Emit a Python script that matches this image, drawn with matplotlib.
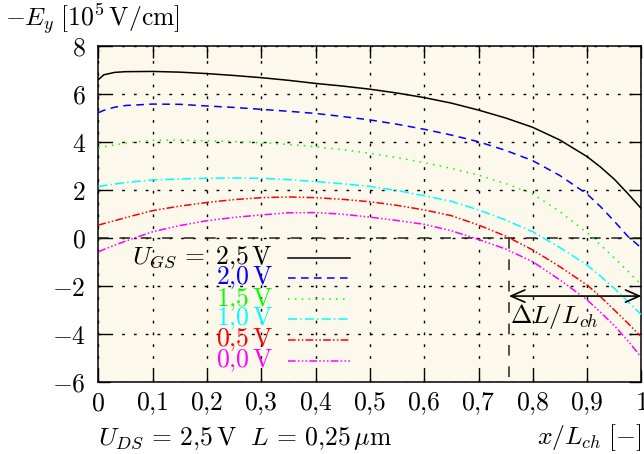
import matplotlib
matplotlib.use('Agg')
import matplotlib.pyplot as plt
from matplotlib.ticker import FixedLocator, FixedFormatter

plt.rcParams['mathtext.fontset'] = 'cm'
plt.rcParams['font.family'] = ['DejaVu Serif']

# ---- data ----
x_pos = [0, 0.01, 0.03, 0.05, 0.1, 0.15, 0.2, 0.25, 0.3, 0.35, 0.4, 0.45, 0.5,
         0.55, 0.6, 0.65, 0.7, 0.75, 0.8, 0.85, 0.9, 0.925, 0.95, 0.975, 1.0]
e_ugs_25 = [6.6, 6.8, 6.9, 6.93, 6.94, 6.91, 6.85, 6.77, 6.68, 6.57, 6.44, 6.33, 6.2,
            6.04, 5.85, 5.62, 5.33, 5.0, 4.61, 4.08, 3.39, 2.95, 2.45, 1.85, 1.22]
e_ugs_20 = [5.22, 5.32, 5.45, 5.52, 5.58, 5.57, 5.5, 5.44, 5.36, 5.28, 5.19, 5.06, 4.92,
            4.74, 4.53, 4.29, 4.01, 3.65, 3.22, 2.6, 1.83, 1.3, 0.7, 0.07, -0.42]
e_ugs_15 = [3.74, 3.8, 3.88, 3.95, 4.07, 4.08, 4.05, 4.02, 3.97, 3.9, 3.8, 3.68, 3.53,
            3.35, 3.14, 2.9, 2.62, 2.27, 1.83, 1.1, 0.22, -0.3, -0.83, -1.38, -1.95]
e_ugs_10 = [2.14, 2.18, 2.25, 2.31, 2.42, 2.46, 2.49, 2.5, 2.49, 2.43, 2.35, 2.26, 2.15,
            1.98, 1.76, 1.53, 1.17, 0.75, 0.26, -0.4, -1.13, -1.6, -2.1, -2.65, -3.2]
e_ugs_05 = [0.54, 0.6, 0.72, 0.85, 1.14, 1.33, 1.48, 1.6, 1.68, 1.71, 1.68, 1.61, 1.51,
            1.36, 1.17, 0.93, 0.54, 0.08, -0.5, -1.2, -1.96, -2.45, -3.0, -3.55, -4.12]
e_ugs_00 = [-0.57, -0.48, -0.3, -0.13, 0.26, 0.52, 0.72, 0.86, 0.96, 1.05, 1.06, 0.99, 0.87,
            0.73, 0.57, 0.3, -0.06, -0.46, -0.99, -1.75, -2.58, -3.1, -3.65, -4.28, -4.98]

series = [e_ugs_25, e_ugs_20, e_ugs_15, e_ugs_10, e_ugs_05, e_ugs_00]
legend_labels = [r'$U_{GS}\,=\;2{,}5\,\mathrm{V}$', r'$2{,}0\,\mathrm{V}$', r'$1{,}5\,\mathrm{V}$',
                 r'$1{,}0\,\mathrm{V}$', r'$0{,}5\,\mathrm{V}$', r'$0{,}0\,\mathrm{V}$']
colors = ['#000000', '#0000ff', '#00ff00', '#00ffff', '#ff0000', '#ff00ff']
styles = ['-', (0, (5, 3.5)), (0, (1, 3.5)), (0, (6, 2, 1, 2)),
          (0, (5, 1.5, 1, 1.5, 1, 1.5)), (0, (5, 1.5, 1, 1.5, 1, 1.5, 1, 1.5))]

x_ticks = [0, 0.1, 0.2, 0.3, 0.4, 0.5, 0.6, 0.7, 0.8, 0.9, 1.0]
x_tick_labels = ['$0$', '$0{,}1$', '$0{,}2$', '$0{,}3$', '$0{,}4$', '$0{,}5$', '$0{,}6$',
                 '$0{,}7$', '$0{,}8$', '$0{,}9$', '$1$']
y_ticks = [-6, -4, -2, 0, 2, 4, 6, 8]
y_tick_labels = ['$-6$', '$-4$', '$-2$', '$0$', '$2$', '$4$', '$6$', '$8$']

dl_start = 0.756
dl_end = 1.0
arrow_y = -2.42

FS = 18.5

# ---- figure ----
fig = plt.figure(figsize=(6.44, 4.54), dpi=100)
ax = fig.add_axes([0.1528, 0.1586, 0.8432, 0.7401])
ax.set_facecolor('#fcf8ec')
ax.set_xlim(0, 1)
ax.set_ylim(-6, 8)

ax.xaxis.set_major_locator(FixedLocator(x_ticks))
ax.xaxis.set_major_formatter(FixedFormatter(x_tick_labels))
ax.yaxis.set_major_locator(FixedLocator(y_ticks))
ax.yaxis.set_major_formatter(FixedFormatter(y_tick_labels))
ax.tick_params(axis='both', which='major', direction='in', length=8.5, width=1.0,
               top=True, right=True, labelsize=FS, colors='k')
ax.tick_params(axis='x', pad=6)
ax.tick_params(axis='y', pad=9)
for s in ax.spines.values():
    s.set_linewidth(1.1)

ax.grid(True, color='k', linestyle=(0, (2.0, 6.5)), linewidth=1.0)
ax.set_axisbelow(True)

# zero line and Delta L marker
ax.axhline(0, color='#222222', linestyle=(0, (7, 7)), linewidth=1.1, zorder=2)
ax.plot([dl_start, dl_start], [0, -6], color='#222222', linestyle=(0, (7, 7)),
        linewidth=1.1, zorder=2)

for ys, c, ls in zip(series, colors, styles):
    ax.plot(x_pos, ys, color=c, linestyle=ls, linewidth=1.1, zorder=3)

ax.annotate('', xy=(dl_start, arrow_y), xytext=(dl_end, arrow_y),
            arrowprops=dict(arrowstyle='<->,head_length=0.5,head_width=0.22',
                            lw=1.2, color='k', shrinkA=0, shrinkB=0,
                            mutation_scale=20), zorder=4)
ax.text(dl_start + 0.002, arrow_y - 0.85, r'$\Delta L/L_{ch}$', fontsize=FS,
        ha='left', va='center', zorder=4)

# manual legend
row_y = [0.369, 0.310, 0.246, 0.188, 0.125, 0.062]
for lab, c, ls, ry in zip(legend_labels, colors, styles, row_y):
    ax.text(0.3215, ry, lab, transform=ax.transAxes, fontsize=FS, color=c,
            ha='right', va='center', zorder=5)
    ax.plot([0.349, 0.463], [ry, ry], transform=ax.transAxes, color=c,
            linestyle=ls, linewidth=1.1, zorder=5)

fig.text(0.008, 0.957, r'$-E_y\;[10^5\,\mathrm{V/cm}]$', fontsize=FS,
         ha='left', va='center')
fig.text(0.152, 0.035, r'$U_{DS}\,=\,2{,}5\,\mathrm{V}\ \ L\,=\,0{,}25\,\mu\mathrm{m}$',
         fontsize=FS, ha='left', va='center')
fig.text(0.995, 0.035, r'$x/L_{ch}\;[-]$', fontsize=FS, ha='right', va='center')

fig.savefig('out.png', dpi=100)
